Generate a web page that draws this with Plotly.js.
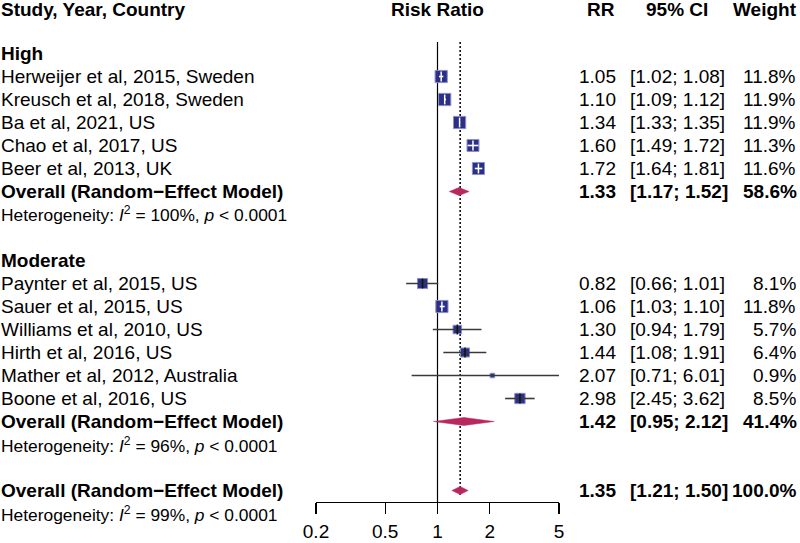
<!DOCTYPE html>
<html>
<head>
<meta charset="utf-8">
<script src="https://cdn.plot.ly/plotly-3.0.1.min.js"></script>
<style>html,body{margin:0;padding:0;background:#fff;}#chart{width:800px;height:543px;}</style>
</head>
<body>
<div id="chart"></div>
<script>
// ---- data ----
const groupLabels = ["High", "Moderate"];
const highStudies = ["Herweijer et al, 2015, Sweden", "Kreusch et al, 2018, Sweden", "Ba et al, 2021, US", "Chao et al, 2017, US", "Beer et al, 2013, UK"];
const highRR = [1.05, 1.10, 1.34, 1.60, 1.72];
const highLo = [1.02, 1.09, 1.33, 1.49, 1.64];
const highHi = [1.08, 1.12, 1.35, 1.72, 1.81];
const highW  = [11.8, 11.9, 11.9, 11.3, 11.6];
const modStudies = ["Paynter et al, 2015, US", "Sauer et al, 2015, US", "Williams et al, 2010, US", "Hirth et al, 2016, US", "Mather et al, 2012, Australia", "Boone et al, 2016, US"];
const modRR = [0.82, 1.06, 1.30, 1.44, 2.07, 2.98];
const modLo = [0.66, 1.03, 0.94, 1.08, 0.71, 2.45];
const modHi = [1.01, 1.10, 1.79, 1.91, 6.01, 3.62];
const modW  = [8.1, 11.8, 5.7, 6.4, 0.9, 8.5];
const pooledLabel = "Overall (Random\u2212Effect Model)";
const pooledRR = [1.33, 1.42, 1.35];
const pooledLo = [1.17, 0.95, 1.21];
const pooledHi = [1.52, 2.12, 1.50];
const pooledW  = [58.6, 41.4, 100.0];
const hetI2 = [100, 96, 99];
const hetP = ["< 0.0001", "< 0.0001", "< 0.0001"];
const tickVals = [0.2, 0.5, 1, 2, 5];
const tickText = ["0.2", "0.5", "1", "2", "5"];
const headers = ["Study, Year, Country", "Risk Ratio", "RR", "95% CI", "Weight"];

// ---- layout helpers ----
const W = 800, H = 543;
const FONT = "Liberation Sans, Arial, Helvetica, sans-serif";
const FS = 19, FSH = 17.4;
const rowPx = 23, row0Px = 76.5, axisPx = 502;
const xLeftPx = 316, xRightPx = 559;
const pxPerDec = (xRightPx - xLeftPx) / (Math.log10(5) - Math.log10(0.2));
const f2 = v => v.toFixed(2);
const px = p => p / W;
const rowToPaperY = rr => 1 - (row0Px + rowPx * rr) / H;

// build row list
const rows = [];
let r = -1;
function addGroup(gi, names, rr, lo, hi, w) {
  rows.push({type: "group", label: groupLabels[gi], r: r}); r++;
  for (let i = 0; i < names.length; i++) {
    rows.push({type: "study", label: names[i], rr: rr[i], lo: lo[i], hi: hi[i], w: w[i], r: r}); r++;
  }
  rows.push({type: "pooled", idx: gi, r: r}); r++;
  rows.push({type: "het", idx: gi, r: r}); r++;
  r++; // blank
}
addGroup(0, highStudies, highRR, highLo, highHi, highW);
addGroup(1, modStudies, modRR, modLo, modHi, modW);
rows.push({type: "pooled", idx: 2, r: r}); r++;
rows.push({type: "het", idx: 2, r: r}); r++;

const yTop = (0 - row0Px) / rowPx;
const yBot = (axisPx - row0Px) / rowPx;
const refTop = (42 - row0Px) / rowPx;

const traces = [];
// reference lines
traces.push({x: [1, 1], y: [refTop, yBot], mode: "lines", line: {color: "#000", width: 1.2}, hoverinfo: "skip", showlegend: false});
traces.push({x: [pooledRR[2], pooledRR[2]], y: [refTop, yBot - 0.3], mode: "lines", line: {color: "#000", width: 1.5, dash: "2px,2px"}, hoverinfo: "skip", showlegend: false});

// boxes
const studies = rows.filter(d => d.type === "study");
const boxSize = studies.map(d => Math.max(4.5, 3.55 * Math.sqrt(d.w)));
traces.push({
  x: studies.map(d => d.rr), y: studies.map(d => d.r), mode: "markers",
  marker: {symbol: "square", size: boxSize, opacity: 1, color: "#2B2F86", line: {color: "#8C90C6", width: 1}},
  hoverinfo: "skip", showlegend: false, cliponaxis: false
});
// CI lines + ticks
studies.forEach((d, i) => {
  const half = boxSize[i] / 2;
  const inside = (Math.log10(d.hi) - Math.log10(d.rr)) * pxPerDec <= half && (Math.log10(d.rr) - Math.log10(d.lo)) * pxPerDec <= half;
  const col = inside ? "#FFFFFF" : "#3A3A3A";
  traces.push({x: [d.lo, d.hi], y: [d.r, d.r], mode: "lines", line: {color: col, width: 1.6}, hoverinfo: "skip", showlegend: false});
  if (boxSize[i] > 6) {
    traces.push({x: [d.rr], y: [d.r], mode: "markers", marker: {symbol: "line-ns", size: 7, opacity: 1, line: {color: inside ? "#FFFFFF" : "#111", width: 1.5}}, hoverinfo: "skip", showlegend: false});
  }
});
// diamonds
const dh = 4 / rowPx;
rows.filter(d => d.type === "pooled").forEach(d => {
  const k = d.idx;
  traces.push({
    x: [pooledLo[k], pooledRR[k], pooledHi[k], pooledRR[k], pooledLo[k]],
    y: [d.r, d.r - dh, d.r, d.r + dh, d.r],
    mode: "lines", fill: "toself", fillcolor: "#B8285F", line: {color: "#B8285F", width: 0.5},
    hoverinfo: "skip", showlegend: false
  });
});

// text annotations
const ann = [];
function txt(text, xPx, anchor, yr, bold, size) {
  ann.push({xref: "paper", yref: "paper", x: px(xPx), y: rowToPaperY(yr), text: bold ? "<b>" + text + "</b>" : text,
    xanchor: anchor, yanchor: "middle", showarrow: false,
    font: {family: FONT, size: size || FS, color: "#000"}, borderpad: 0});
}
const hdrR = (9.5 - row0Px) / rowPx;
txt(headers[0], 0, "left", hdrR, true);
txt(headers[1], 437.5, "center", hdrR, true);
txt(headers[2], 601, "center", hdrR, true);
txt(headers[3], 677, "center", hdrR, true);
txt(headers[4], 798, "right", hdrR, true);

rows.forEach(d => {
  if (d.type === "group") txt(d.label, 0, "left", d.r, true);
  if (d.type === "study") {
    txt(d.label, 0, "left", d.r, false);
    txt(f2(d.rr), 617, "right", d.r, false);
    txt("[" + f2(d.lo) + "; " + f2(d.hi) + "]", 629, "left", d.r, false);
    txt(d.w.toFixed(1) + "%", 797, "right", d.r, false);
  }
  if (d.type === "pooled") {
    const k = d.idx;
    txt(pooledLabel, 0, "left", d.r, true);
    txt(f2(pooledRR[k]), 617, "right", d.r, true);
    txt("[" + f2(pooledLo[k]) + "; " + f2(pooledHi[k]) + "]", 629, "left", d.r, true);
    txt(pooledW[k].toFixed(1) + "%", 798, "right", d.r, true);
  }
  if (d.type === "het") {
    const k = d.idx;
    txt("Heterogeneity: <i>I</i><sup>2</sup> = " + hetI2[k] + "%, <i>p</i> " + hetP[k].replace("<", "&lt;"), 0, "left", d.r, false, FSH);
  }
});

const layout = {
  width: W, height: H,
  margin: {l: 0, r: 0, t: 0, b: 0},
  paper_bgcolor: "#fff", plot_bgcolor: "#fff",
  showlegend: false,
  xaxis: {
    type: "log", range: [Math.log10(0.2), Math.log10(5)],
    domain: [xLeftPx / W, xRightPx / W],
    tickvals: tickVals, ticktext: tickText,
    ticks: "outside", ticklen: 11, tickwidth: 1.2, tickcolor: "#000",
    ticklabelstandoff: 1,
    showline: true, linecolor: "#000", linewidth: 1.2,
    showgrid: false, zeroline: false,
    tickfont: {family: FONT, size: FS, color: "#000"}, fixedrange: true
  },
  yaxis: {
    range: [yBot, yTop], domain: [(H - axisPx) / H, 1],
    visible: false, showgrid: false, zeroline: false, fixedrange: true
  },
  annotations: ann
};
Plotly.newPlot("chart", traces, layout, {staticPlot: true, displayModeBar: false});
</script>
</body>
</html>
